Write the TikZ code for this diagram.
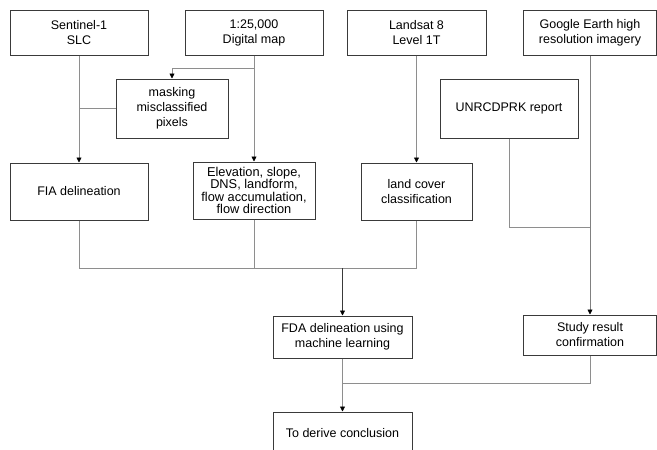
\documentclass[tikz,border=0pt]{standalone}
\usepackage{fontspec}
\setmainfont{Liberation Sans}
\usetikzlibrary{arrows.meta}
\definecolor{boxgray}{HTML}{3A3A3A}
\definecolor{linkgray}{HTML}{8E8E8E}
\definecolor{darkgray}{HTML}{3A3A3A}

\begin{document}
\begin{tikzpicture}[x=1pt,y=-1pt,
    box/.style={draw=boxgray,line width=1pt,align=center,inner sep=1pt,
        font=\fontsize{12.5}{15}\selectfont},
    link/.style={draw=linkgray,line width=0.8pt},
    arrow/.style={link,-{Triangle[length=5pt,width=5pt,color=black]}}]
    \clip (0,0) rectangle (657,450);
    \fill[white] (0,0) rectangle (657,450);

    % input data
    \node[box,minimum width=138pt,minimum height=45pt] (S1) at (79,32.5) {Sentinel-1\\SLC};
    \node[box,minimum width=138pt,minimum height=45pt] (map) at (254,32.5) {1:25,000\\Digital map};
    \node[box,minimum width=139pt,minimum height=45pt] (L8) at (416.5,32.5) {Landsat 8\\Level 1T};
    \node[box,minimum width=133pt,minimum height=45pt] (GE) at (590,32.5) {Google Earth high\\resolution imagery};

    \node[box,minimum width=112pt,minimum height=59pt] (mask) at (172,108.5) {masking\\misclassified\\pixels};
    \node[box,minimum width=138pt,minimum height=59pt] (UN) at (509,108.5) {UNRCDPRK report};

    % processing
    \node[box,minimum width=138pt,minimum height=57pt] (FIA) at (79,191.5) {FIA delineation};
    \node[box,minimum width=122pt,minimum height=57pt,font=\fontsize{12.8}{12.2}\selectfont] (elev) at (254,190.5)
        {Elevation, slope,\\DNS, landform,\\flow accumulation,\\flow direction};
    \node[box,minimum width=111pt,minimum height=57pt] (LC) at (416.5,191.5) {land cover\\classification};

    \node[box,minimum width=139pt,minimum height=42pt] (FDA) at (342.5,337) {FDA delineation using\\machine learning};
    \node[box,minimum width=133pt,minimum height=40pt] (SR) at (590,335) {Study result\\confirmation};
    \node[box,minimum width=139pt,minimum height=43pt] (CON) at (342.5,433.5) {To derive conclusion};

    \coordinate (j1) at (254,68);
    \coordinate (m1) at (342.5,268);
    \coordinate (m2) at (342.5,383);

    % connectors
    \draw[arrow] (map) -- (elev);
    \draw[arrow] (j1) -| (mask.north);
    \draw[link] (mask.west) -- (mask.west -| S1.south);
    \draw[arrow] (S1) -- (FIA);
    \draw[arrow] (L8) -- (LC);
    \draw[arrow,draw=gray] (GE) -- (SR);
    \draw[link] (UN.south) |- (SR.north |- 0,227);

    \foreach \n in {FIA,elev,LC}
        \draw[link] (\n.south) -- (\n.south |- m1);
    \draw[link] (FIA.south |- m1) -- (LC.south |- m1);
    \draw[arrow,draw=darkgray] (m1) -- (FDA);

    \draw[link] (FDA.south) -- (m2) -| (SR.south);
    \draw[arrow] (m2) -- (CON);
\end{tikzpicture}
\end{document}
